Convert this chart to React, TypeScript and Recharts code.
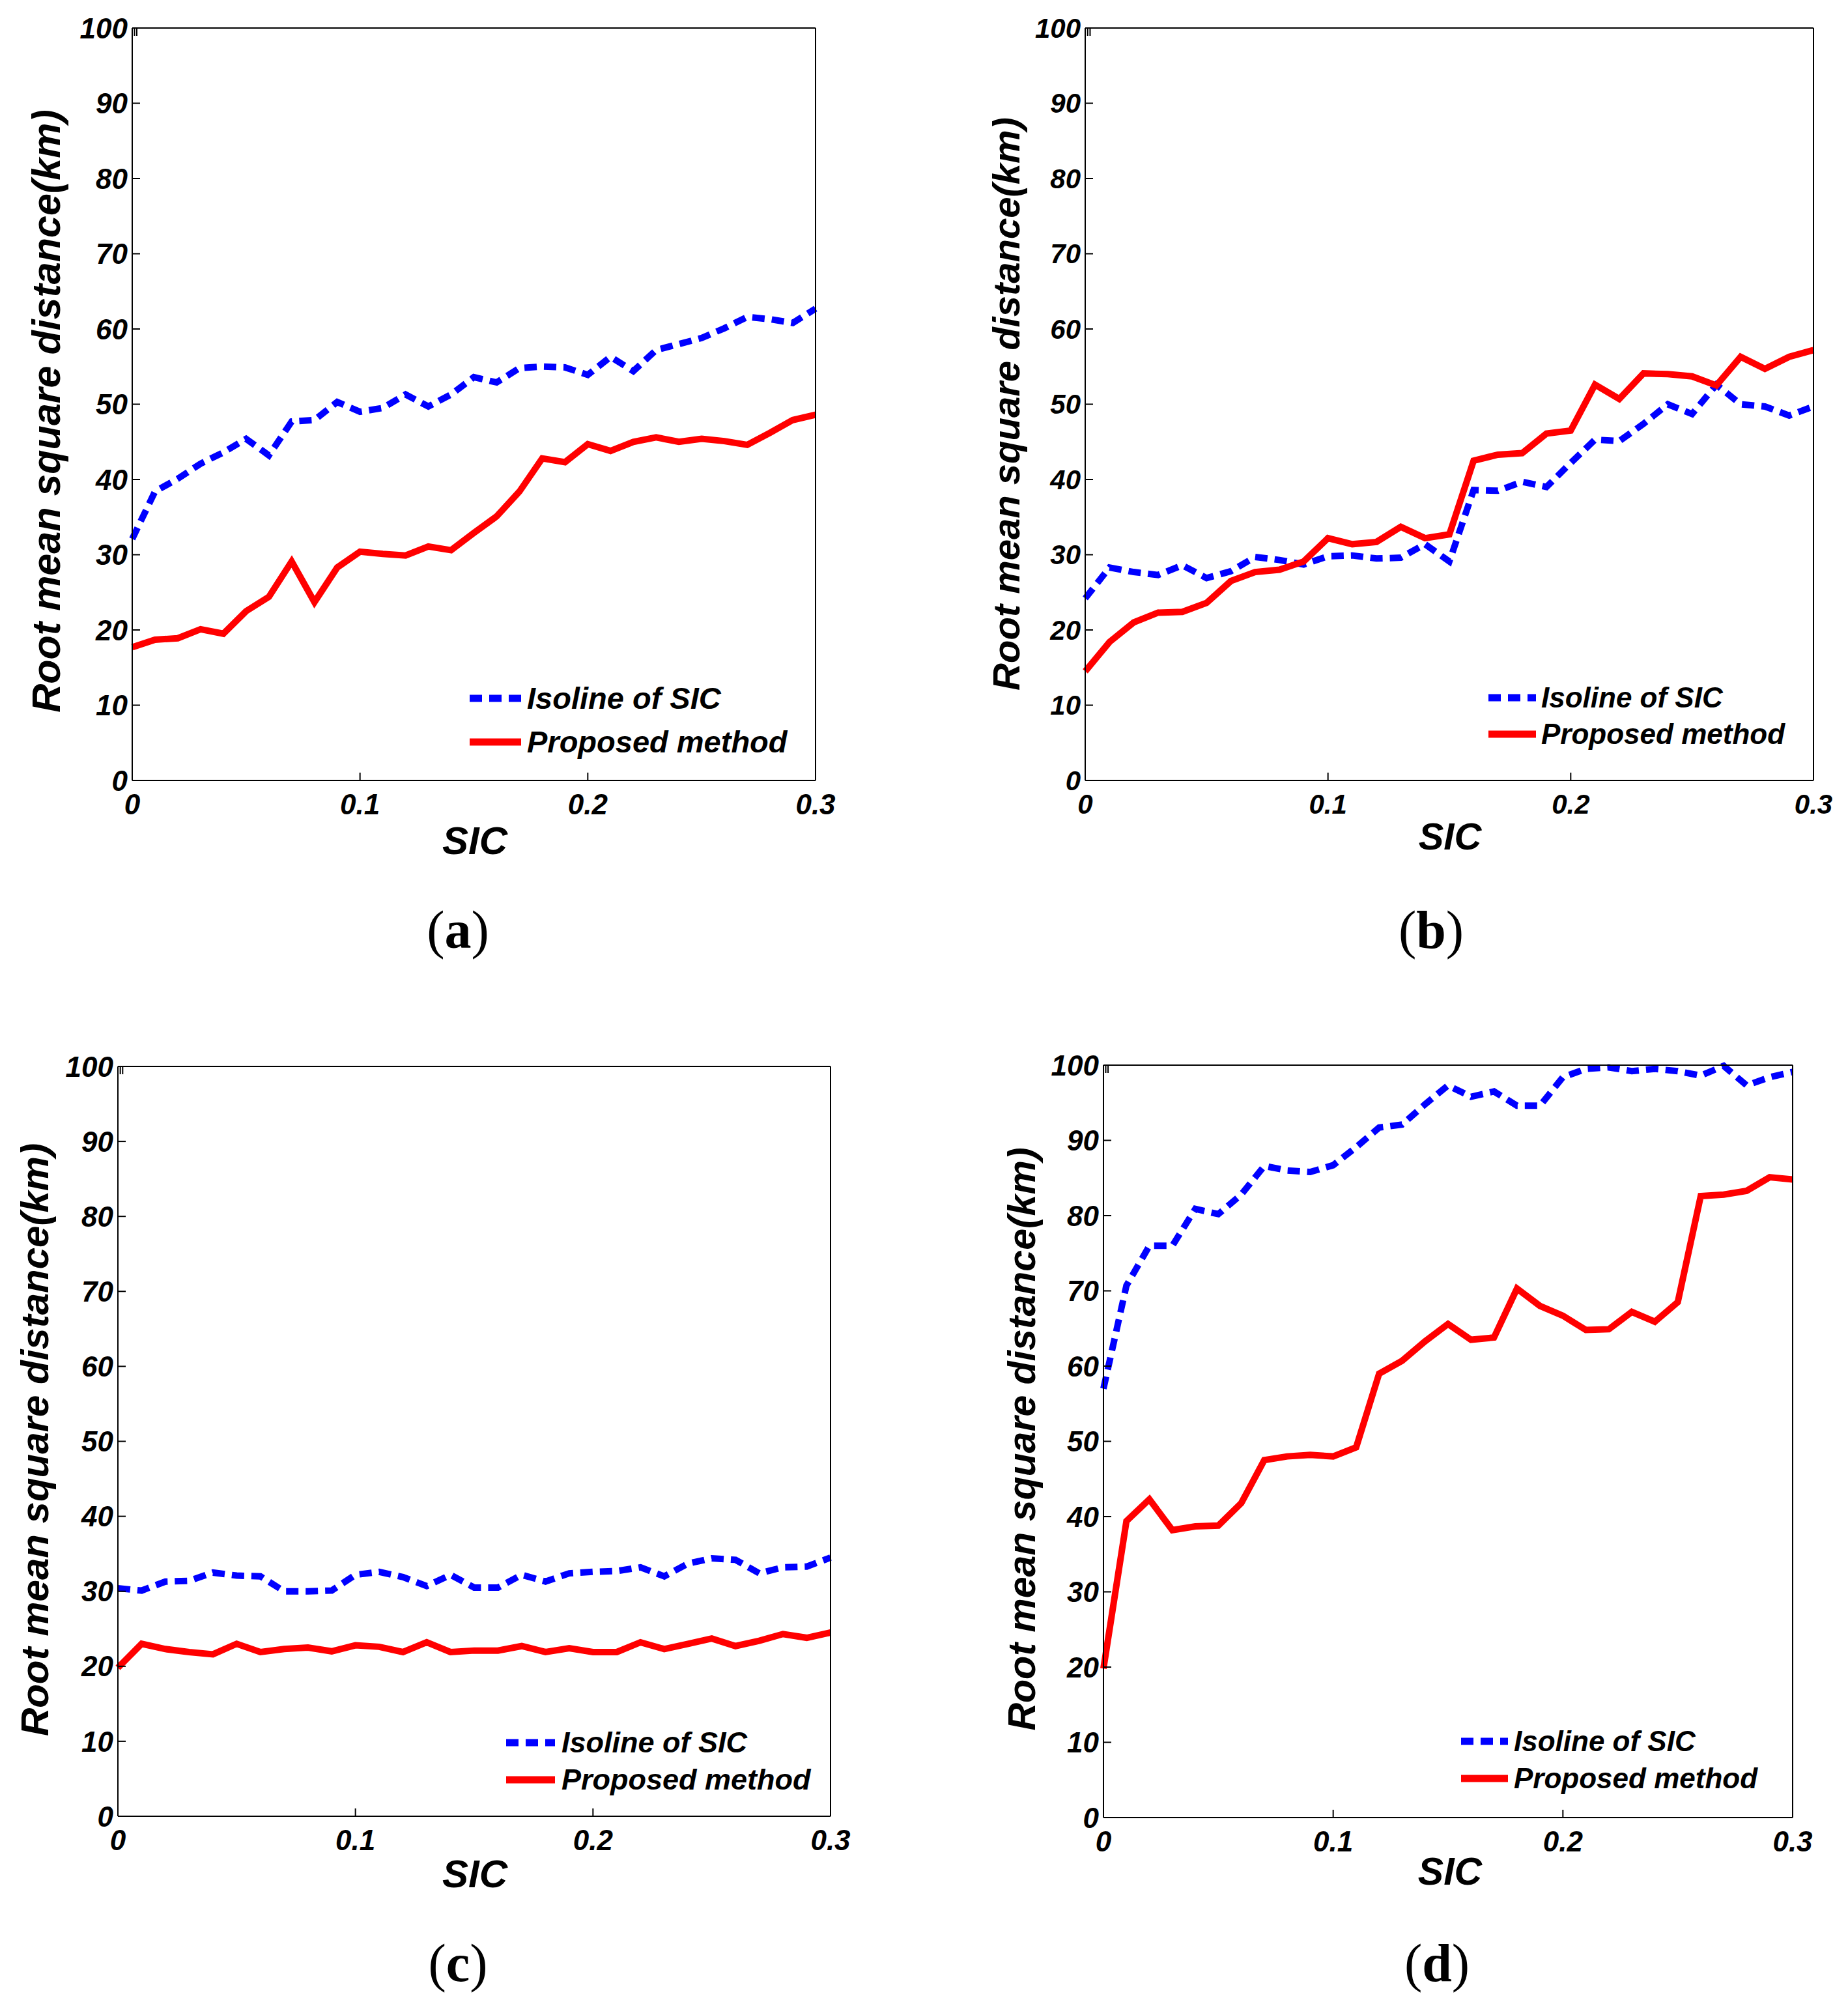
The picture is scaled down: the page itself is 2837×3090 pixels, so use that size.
import { Legend, Line, LineChart, XAxis, YAxis } from 'recharts';

// SIC thresholds on the x axis
const sic = [
  0, 0.01, 0.02, 0.03, 0.04, 0.05, 0.06, 0.07, 0.08, 0.09, 0.1, 0.11, 0.12, 0.13, 0.14, 0.15,
  0.16, 0.17, 0.18, 0.19, 0.2, 0.21, 0.22, 0.23, 0.24, 0.25, 0.26, 0.27, 0.28, 0.29, 0.3,
];
const xTicks = [0, 0.1, 0.2, 0.3];
const yTicks = [0, 10, 20, 30, 40, 50, 60, 70, 80, 90, 100];
// inner ticks only, for the top and right edges of the box
const topTicks = [0.1, 0.2];
const rightTicks = [10, 20, 30, 40, 50, 60, 70, 80, 90];
const isolineName = 'Isoline of SIC';
const proposedName = 'Proposed method';
const yLabel = 'Root mean square distance(km)';
const xLabel = 'SIC';

// (a)
const isolineA = [32.1, 38.4, 40.1, 42.1, 43.6, 45.4, 43.2, 47.7, 47.9, 50.3, 49.0, 49.5, 51.3, 49.7, 51.3, 53.6, 52.9, 54.8, 55.0, 54.9, 53.9, 56.3, 54.4, 57.2, 58.0, 58.8, 60.1, 61.6, 61.3, 60.8, 62.7];
const proposedA = [17.7, 18.7, 18.9, 20.1, 19.5, 22.5, 24.4, 29.1, 23.7, 28.3, 30.4, 30.1, 29.9, 31.1, 30.6, 32.9, 35.1, 38.4, 42.8, 42.3, 44.7, 43.8, 45.0, 45.6, 45.0, 45.4, 45.1, 44.6, 46.2, 47.9, 48.6];
// (b)
const isolineB = [24.2, 28.3, 27.7, 27.3, 28.6, 26.9, 27.8, 29.7, 29.3, 28.7, 29.8, 29.9, 29.5, 29.6, 31.4, 29.1, 38.6, 38.5, 39.7, 39.0, 42.2, 45.3, 45.1, 47.4, 50.0, 48.7, 52.6, 50.0, 49.7, 48.5, 49.7];
const proposedB = [14.5, 18.4, 21.0, 22.3, 22.4, 23.6, 26.5, 27.7, 28.0, 29.1, 32.2, 31.4, 31.7, 33.7, 32.2, 32.7, 42.5, 43.3, 43.5, 46.1, 46.5, 52.6, 50.7, 54.1, 54.0, 53.7, 52.5, 56.3, 54.7, 56.3, 57.2];
// (c)
const isolineC = [30.4, 30.1, 31.3, 31.4, 32.5, 32.1, 32.0, 30.0, 30.0, 30.1, 32.2, 32.6, 31.9, 30.7, 32.2, 30.5, 30.5, 32.2, 31.3, 32.4, 32.6, 32.7, 33.2, 32.0, 33.7, 34.4, 34.2, 32.4, 33.2, 33.3, 34.5];
const proposedC = [19.8, 23.0, 22.3, 21.9, 21.6, 23.0, 21.9, 22.3, 22.5, 22.0, 22.8, 22.6, 21.9, 23.2, 21.9, 22.1, 22.1, 22.7, 21.9, 22.4, 21.9, 21.9, 23.2, 22.3, 23.0, 23.7, 22.7, 23.4, 24.3, 23.8, 24.5];
// (d)
const isolineD = [57.0, 70.7, 76.0, 76.0, 80.9, 80.2, 82.8, 86.6, 86.0, 85.8, 86.7, 89.1, 91.7, 92.1, 94.8, 97.3, 95.8, 96.5, 94.6, 94.6, 98.4, 99.5, 99.7, 99.2, 99.5, 99.2, 98.6, 99.9, 97.3, 98.4, 99.1];
const proposedD = [19.8, 39.4, 42.3, 38.2, 38.7, 38.8, 41.8, 47.5, 48.0, 48.2, 48.0, 49.2, 59.0, 60.7, 63.3, 65.6, 63.5, 63.8, 70.3, 68.0, 66.7, 64.8, 64.9, 67.2, 65.9, 68.5, 82.6, 82.8, 83.3, 85.1, 84.8];

const FONT = "'Liberation Sans', Arial, sans-serif";
const YW = 140;
const XH = 110;

type Layout = {
  ox: number; oy: number; w: number; h: number;
  L: number; T: number; R: number; B: number;
  tickFont: number;
  yl: { x: number; y: number; size: number };
  xl: { x: number; y: number; size: number };
  lg: { sx: number; sw: number; tx: number; size: number; r1: number; r2: number };
  cap: { x: number; y: number; text: string };
};

const layouts: Layout[] = [
  {
    ox: 0, oy: 0, w: 1400, h: 1360, L: 203, T: 43, R: 1252, B: 1198, tickFont: 44,
    yl: { x: 92, y: 631, size: 61 }, xl: { x: 729, y: 1311, size: 60 },
    lg: { sx: 721, sw: 79, tx: 809, size: 47, r1: 1072, r2: 1139 },
    cap: { x: 703, y: 1454, text: 'a' },
  },
  {
    ox: 1420, oy: 0, w: 1417, h: 1360, L: 1666, T: 43, R: 2784, B: 1198, tickFont: 42,
    yl: { x: 1565, y: 620, size: 58 }, xl: { x: 2226, y: 1304, size: 58 },
    lg: { sx: 2285, sw: 73, tx: 2366, size: 44, r1: 1071, r2: 1127 },
    cap: { x: 2197, y: 1454, text: 'b' },
  },
  {
    ox: 0, oy: 1500, w: 1400, h: 1450, L: 181, T: 1637, R: 1275, B: 2788, tickFont: 44,
    yl: { x: 74, y: 2210, size: 60 }, xl: { x: 729, y: 2897, size: 60 },
    lg: { sx: 777, sw: 75, tx: 862, size: 45, r1: 2675, r2: 2732 },
    cap: { x: 703, y: 3040, text: 'c' },
  },
  {
    ox: 1420, oy: 1500, w: 1417, h: 1450, L: 1694, T: 1635, R: 2752, B: 2790, tickFont: 44,
    yl: { x: 1589, y: 2209, size: 59 }, xl: { x: 2226, y: 2893, size: 59 },
    lg: { sx: 2243, sw: 72, tx: 2324, size: 44, r1: 2673, r2: 2730 },
    cap: { x: 2206, y: 3040, text: 'd' },
  },
];

const noTick = () => <g />;

function Panel({ iso, prop, lay }: { iso: number[]; prop: number[]; lay: Layout }) {
  const data = sic.map((x, i) => ({ sic: x, iso: iso[i], prop: prop[i] }));
  const { ox, oy, w, h, L, T, R, B, yl, xl, lg } = lay;
  const margin = { left: L - ox - YW, top: T - oy - 1, right: ox + w - R - 1, bottom: oy + h - B - XH };
  const rowH = lg.r2 - lg.r1;
  const axisStyle = { stroke: '#000', strokeWidth: 2 };
  const tickStyle = { fontSize: lay.tickFont, fill: '#000' };

  return (
    <div style={{ position: 'absolute', left: ox, top: oy, fontFamily: FONT, fontWeight: 'bold', fontStyle: 'italic' }}>
      <LineChart width={w} height={h} data={data} margin={margin}>
        <XAxis
          dataKey="sic" type="number" domain={[0, 0.3]} ticks={xTicks} interval={0} height={XH}
          tickSize={-12} tickMargin={33} axisLine={axisStyle} tickLine={axisStyle} tick={tickStyle}
          label={{
            value: xLabel,
            content: (p: any) => (
              <text x={xl.x - ox} y={xl.y - oy} textAnchor="middle" fontSize={xl.size} fill="#000">{p.value}</text>
            ),
          }}
        />
        <XAxis xAxisId="top" orientation="top" type="number" domain={[0, 0.3]} ticks={topTicks} interval={0} height={1}
          tickSize={-12} axisLine={axisStyle} tickLine={axisStyle} tick={noTick} />
        <YAxis
          type="number" domain={[0, 100]} ticks={yTicks} interval={0} width={YW}
          tickSize={-12} tickMargin={19} axisLine={axisStyle} tickLine={axisStyle} tick={tickStyle}
          label={{
            value: yLabel,
            content: (p: any) => (
              <text x={yl.x - ox} y={yl.y - oy} transform={`rotate(-90 ${yl.x - ox} ${yl.y - oy})`}
                textAnchor="middle" fontSize={yl.size} fill="#000">{p.value}</text>
            ),
          }}
        />
        <YAxis yAxisId="right" orientation="right" type="number" domain={[0, 100]} ticks={rightTicks} interval={0} width={1}
          tickSize={-12} axisLine={axisStyle} tickLine={axisStyle} tick={noTick} />
        <Legend
          layout="vertical" align="center" verticalAlign="middle"
          wrapperStyle={{ left: lg.sx - ox, top: lg.r1 - rowH / 2 - oy, width: 'auto', height: 'auto' }}
          content={(p: any) => (
            <div>
              {(p.payload ?? []).map((e: any) => (
                <div key={e.value} style={{ display: 'flex', alignItems: 'center', height: rowH }}>
                  <svg width={lg.sw} height={16}>
                    <line x1={0} y1={8} x2={lg.sw} y2={8} stroke={e.color} strokeWidth={11}
                      strokeDasharray={e.payload?.strokeDasharray} />
                  </svg>
                  <span style={{ marginLeft: lg.tx - lg.sx - lg.sw, fontSize: lg.size, lineHeight: 1.2, color: '#000', whiteSpace: 'nowrap' }}>
                    {e.value}
                  </span>
                </div>
              ))}
            </div>
          )}
        />
        <Line type="linear" dataKey="iso" name={isolineName} stroke="#0000ff" strokeWidth={10}
          strokeDasharray="19 11" dot={false} activeDot={false} isAnimationActive={false} />
        <Line type="linear" dataKey="prop" name={proposedName} stroke="#ff0000" strokeWidth={10}
          dot={false} activeDot={false} isAnimationActive={false} />
      </LineChart>
    </div>
  );
}

export default function App() {
  const series = [
    [isolineA, proposedA],
    [isolineB, proposedB],
    [isolineC, proposedC],
    [isolineD, proposedD],
  ];
  return (
    <div style={{ position: 'absolute', left: 0, top: 0, width: 2837, height: 3090, background: '#fff' }}>
      {layouts.map((lay, i) => (
        <Panel key={i} iso={series[i][0]} prop={series[i][1]} lay={lay} />
      ))}
      {layouts.map((lay) => (
        <div key={lay.cap.text} style={{
          position: 'absolute', left: lay.cap.x - 100, top: lay.cap.y - 73, width: 200, textAlign: 'center',
          fontFamily: "'Liberation Serif', 'Times New Roman', serif", fontSize: 82, lineHeight: 'normal', color: '#000',
        }}>
          (<b>{lay.cap.text}</b>)
        </div>
      ))}
    </div>
  );
}
